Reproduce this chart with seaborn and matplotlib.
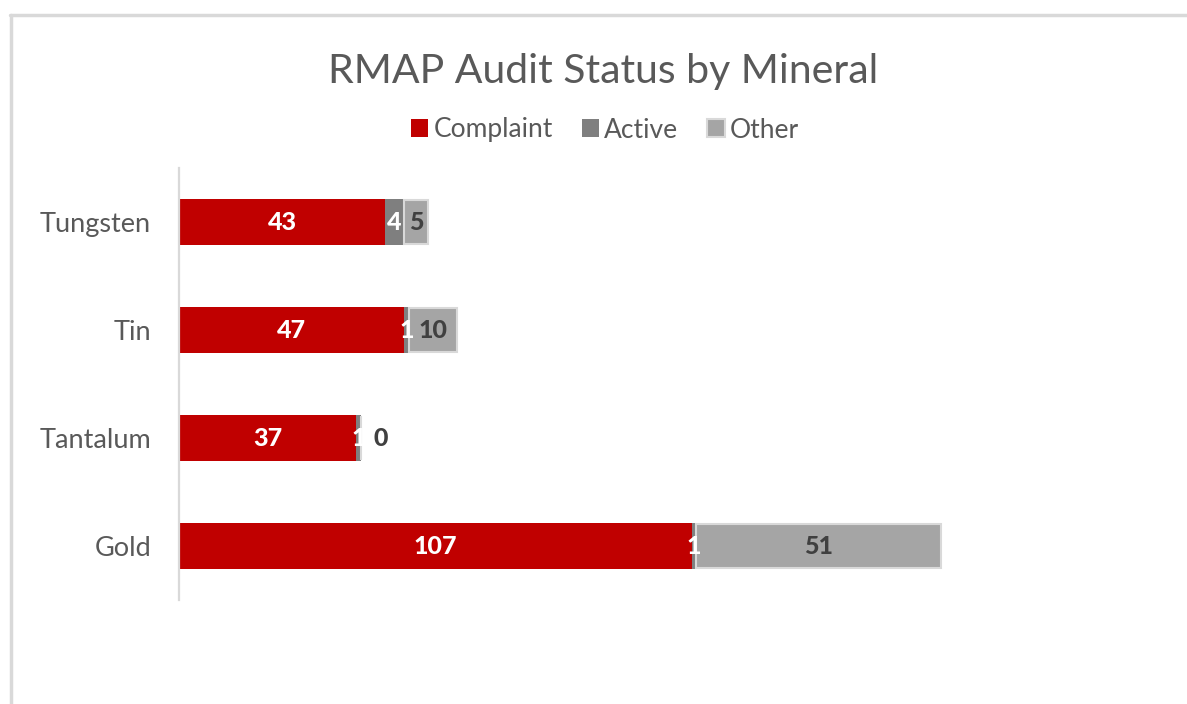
import matplotlib
matplotlib.use("Agg")
import matplotlib.pyplot as plt
import seaborn as sns
import pandas as pd
from matplotlib.patches import Patch
from matplotlib.lines import Line2D

minerals = ["Tungsten", "Tin", "Tantalum", "Gold"]
complaint = [43, 47, 37, 107]
active = [4, 1, 1, 1]
other = [5, 10, 0, 51]
series_names = ["Complaint", "Active", "Other"]

c_complaint = "#c00000"
c_active = "#7f7f7f"
c_other = "#a5a5a5"
c_edge = "#d9d9d9"
c_text = "#595959"

sns.set_style("white")
plt.rcParams["font.family"] = ["Lato", "DejaVu Sans"]

fig = plt.figure(figsize=(11.87, 7.04), dpi=100)
ax = fig.add_axes([179 / 1187, 1 - 600 / 704, 971 / 1187, 432 / 704])

df = pd.DataFrame({"Mineral": minerals, "Complaint": complaint,
                   "Active": active, "Other": other})

bw = 0.43
sns.barplot(data=df, y="Mineral", x="Complaint", order=minerals, color=c_complaint,
            saturation=1, width=bw, ax=ax, linewidth=0)
pos = list(range(len(minerals)))
left_a = complaint
left_o = [c + a for c, a in zip(complaint, active)]
ax.barh(pos, active, left=left_a, height=bw, color=c_active, linewidth=0)
ax.barh(pos, other, left=left_o, height=bw * 0.93, color=c_other,
        edgecolor=c_edge, linewidth=1.5)

ax.set_xlim(0, 971 / 4.79)
ax.set_ylim(3.5, -0.5)

lab_kw = dict(fontsize=18, fontweight=900, ha="center", va="center",
              family=["Lato", "Open Sans", "DejaVu Sans"])
for i in pos:
    ax.text(complaint[i] / 2, i, str(complaint[i]), color="white", **lab_kw)
    ax.text(left_a[i] + active[i] / 2, i, str(active[i]), color="white", **lab_kw)
    if other[i] > 0:
        ax.text(left_o[i] + other[i] / 2, i, str(other[i]), color="#404040", **lab_kw)
    else:
        ax.annotate(str(other[i]), (left_o[i], i), xytext=(14, 0),
                    textcoords="offset points", color="#404040", **lab_kw)

for s in ["top", "right", "bottom"]:
    ax.spines[s].set_visible(False)
ax.spines["left"].set_color(c_edge)
ax.spines["left"].set_linewidth(1.6)
ax.set_xticks([])
ax.tick_params(axis="y", length=0, pad=20, labelsize=19.5, labelcolor=c_text)
ax.set_xlabel("")
ax.set_ylabel("")

fig.text(603 / 1187, 1 - 72 / 704, "RMAP Audit Status by Mineral", ha="center",
         va="center", fontsize=29.5, color=c_text)

handles = [Patch(facecolor=c_complaint, edgecolor="none"),
           Patch(facecolor=c_active, edgecolor="none"),
           Patch(facecolor=c_other, edgecolor=c_edge, linewidth=1.5)]
fig.legend(handles, series_names, loc="center", bbox_to_anchor=(605 / 1187, 1 - 130 / 704),
           ncol=3, frameon=False, fontsize=19, labelcolor=c_text,
           handlelength=0.65, handleheight=0.65, handletextpad=0.2, columnspacing=1.1)

fig.add_artist(Line2D([10 / 1187, 1], [1 - 14.5 / 704] * 2, color=c_edge, linewidth=2.5,
                      transform=fig.transFigure))
fig.add_artist(Line2D([10.5 / 1187] * 2, [0, 1 - 14.5 / 704], color=c_edge, linewidth=2.5,
                      transform=fig.transFigure))

fig.savefig("out.png", dpi=100, facecolor="white")
